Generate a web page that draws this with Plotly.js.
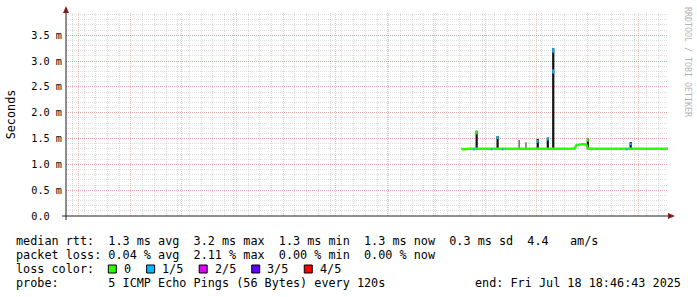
<!DOCTYPE html>
<html><head><meta charset="utf-8">
<script src="https://cdn.plot.ly/plotly-3.0.1.min.js"></script>
<style>html,body{margin:0;padding:0;background:#fff;}#chart{width:697px;height:297px;}</style>
</head><body><div id="chart"></div>
<script>
// ---------------- data ----------------
const xStart = '2024-07-24 06:00';
const xEnd = '2025-07-18 18:46:43';

const medianDates = ['2025-03-17 06:00','2025-03-19','2025-03-21','2025-03-23','2025-03-25','2025-03-27','2025-03-29','2025-03-31',
 '2025-04-02','2025-04-04','2025-04-06','2025-04-08','2025-04-10','2025-04-12','2025-04-14','2025-04-16','2025-04-18','2025-04-20',
 '2025-04-22','2025-04-24','2025-04-26','2025-04-28','2025-04-30','2025-05-02','2025-05-04','2025-05-06','2025-05-08','2025-05-10',
 '2025-05-12','2025-05-14','2025-05-16','2025-05-18','2025-05-20','2025-05-22','2025-05-24','2025-05-25','2025-05-26','2025-05-28',
 '2025-05-30','2025-05-31','2025-06-01','2025-06-03','2025-06-05','2025-06-07','2025-06-09','2025-06-11','2025-06-13','2025-06-15',
 '2025-06-17','2025-06-19','2025-06-21','2025-06-23','2025-06-25','2025-06-27','2025-06-29','2025-07-01','2025-07-03','2025-07-05',
 '2025-07-07','2025-07-09','2025-07-11','2025-07-13','2025-07-15','2025-07-17','2025-07-18 18:00'];
const medianRtt = [1.30,1.29,1.30,1.30,1.29,1.30,1.30,1.29,
 1.30,1.30,1.29,1.30,1.30,1.30,1.29,1.30,1.30,1.30,
 1.29,1.30,1.30,1.30,1.30,1.30,1.30,1.29,1.30,1.30,
 1.30,1.30,1.30,1.30,1.30,1.30,1.30,1.37,1.38,1.39,
 1.39,1.38,1.30,1.30,1.29,1.30,1.30,1.30,1.30,1.30,
 1.29,1.30,1.30,1.30,1.30,1.30,1.30,1.30,1.29,1.30,
 1.30,1.29,1.30,1.30,1.30,1.30,1.30];

// smoke (ping spread) spikes
const spikeDates = ['2025-03-26 12:00','2025-04-08 00:00','2025-05-02 00:00','2025-05-08 00:00','2025-05-11 06:00','2025-05-31 22:00','2025-06-26 12:00'];
const spikeLow   = [1.28,1.28,1.28,1.28,1.28,1.28,1.28];
const spikeHigh  = [1.65,1.55,1.49,1.52,3.25,1.50,1.43];
const greySpikeDates = ['2025-04-20 22:00','2025-04-25 00:00'];
const greySpikeLow   = [1.30,1.30];
const greySpikeHigh  = [1.47,1.43];

// median segments with 1/5 packet loss
const loss1Dates = ['2025-03-25 00:00','2025-04-04 12:00','2025-04-11 00:00','2025-04-08 00:00','2025-05-02 00:00','2025-05-08 00:00','2025-05-11 06:00','2025-05-11 06:00','2025-06-26 12:00','2025-06-24 00:00'];
const loss1Low   = [1.27,1.27,1.27,1.49,1.42,1.46,3.16,2.76,1.37,1.27];
const loss1High  = [1.31,1.31,1.31,1.55,1.47,1.52,3.25,2.84,1.41,1.31];
// median peaks with no loss
const loss0Dates = ['2025-03-26 12:00','2025-05-31 22:00'];
const loss0Low   = [1.58,1.44];
const loss0High  = [1.65,1.50];

const xLabelDates = ['2024-09-16','2024-11-16','2025-01-16','2025-03-16','2025-05-16'];
const xLabelText  = ['September 2024','November 2024','January 2025','March 2025','May 2025'];
const yTickVals = [0,0.5,1.0,1.5,2.0,2.5,3.0,3.5];
const yTickText = ['0.0  ','0.5 m','1.0 m','1.5 m','2.0 m','2.5 m','3.0 m','3.5 m'];
const lossLabels = ['0','1/5','2/5','3/5','4/5'];
const lossColors = ['#26ff00','#00b8ff','#dd00ff','#5e00ff','#ff0000'];

// ---------------- layout helpers ----------------
const W=697,H=297,L=66,R=29,T=13,B=81;
const PW=W-L-R, PH=H-T-B;
const px=x=>(x-L)/PW, py=y=>(H-B-y)/PH;
const mono='DejaVu Sans Mono';
const nb=s=>s.replace(/ /g,'\u00a0');
function segs(d,lo,hi){const x=[],y=[];d.forEach((t,i)=>{x.push(t,t,null);y.push(lo[i],hi[i],null);});return {x,y};}

const sp=segs(spikeDates,spikeLow,spikeHigh);
const gs=segs(greySpikeDates,greySpikeLow,greySpikeHigh);
const l1=segs(loss1Dates,loss1Low,loss1High);
const l0=segs(loss0Dates,loss0Low,loss0High);

const traces=[
 {type:'scatter',mode:'lines',x:gs.x,y:gs.y,line:{color:'#6e6e6e',width:1.5},connectgaps:false},
 {type:'scatter',mode:'lines',x:sp.x,y:sp.y,line:{color:'#111111',width:2.2},connectgaps:false},
 {type:'scatter',mode:'lines',x:medianDates,y:medianRtt,line:{color:lossColors[0],width:2.5}},
 {type:'scatter',mode:'lines',x:l1.x,y:l1.y,line:{color:lossColors[1],width:2},connectgaps:false},
 {type:'scatter',mode:'lines',x:l0.x,y:l0.y,line:{color:lossColors[0],width:2},connectgaps:false}
];

const GRID='rgba(143,143,143,0.75)', MGRID='rgba(222,79,79,0.6)';
const shapes=[
 {type:'line',xref:'paper',yref:'paper',x0:px(62),x1:px(670),y0:0,y1:0,line:{color:'#1f1f1f',width:1}},
 {type:'line',xref:'paper',yref:'paper',x0:0,x1:0,y0:py(220),y1:py(11),line:{color:'#1f1f1f',width:1}},
 {type:'path',xref:'paper',yref:'paper',path:`M${px(668)},${py(213)} L${px(675)},${py(216)} L${px(668)},${py(219)} Z`,fillcolor:'#801f1f',line:{width:0}},
 {type:'path',xref:'paper',yref:'paper',path:`M${px(63)},${py(13)} L${px(66)},${py(6)} L${px(69)},${py(13)} Z`,fillcolor:'#801f1f',line:{width:0}}
];
const cw=7.1, x0=16;
const annotations=[];
function txt(s,xp,yp,anchor){annotations.push({xref:'paper',yref:'paper',x:px(xp),y:py(yp),xanchor:anchor||'left',yanchor:'middle',showarrow:false,text:nb(s),font:{family:mono,size:11.8,color:'#000'},borderpad:0,borderwidth:0});}
txt('median rtt:  1.3 ms avg  3.2 ms max  1.3 ms min  1.3 ms now  0.3 ms sd  4.4   am/s',x0,241);
txt('packet loss: 0.04 % avg  2.11 % max  0.00 % min  0.00 % now',x0,255);
txt('loss color:',x0,269);
let col=13;
lossLabels.forEach((lab,i)=>{
  const bx=x0+col*cw;
  shapes.push({type:'rect',xref:'paper',yref:'paper',x0:px(bx),x1:px(bx+8),y0:py(273),y1:py(265),fillcolor:lossColors[i],line:{color:'#000',width:1}});
  txt(lab,x0+(col+2.2)*cw,269);
  col+=2.2+lab.length+2.2;
});
txt('probe:       5 ICMP Echo Pings (56 Bytes) every 120s',x0,283);
txt('end: Fri Jul 18 18:46:43 2025',681,283,'right');
annotations.push({xref:'paper',yref:'paper',x:px(688),y:py(62),xanchor:'center',yanchor:'middle',showarrow:false,textangle:90,
  text:nb('RRDTOOL / TOBI OETIKER'),font:{family:mono,size:8.3,color:'#b4b4b4'}});

const layout={
 width:W,height:H,margin:{l:L,r:R,t:T,b:B,pad:0},
 paper_bgcolor:'#ffffff',plot_bgcolor:'#ffffff',showlegend:false,hovermode:false,
 xaxis:{type:'date',range:[xStart,xEnd],tickmode:'linear',tick0:'2024-08-01',dtick:'M1',showticklabels:false,ticks:'',
   showgrid:true,gridcolor:MGRID,gridwidth:0.6,griddash:'1px,1px',zeroline:false,showline:false,fixedrange:true,
   minor:{tickmode:'linear',tick0:'2024-07-28',dtick:7*86400000,showgrid:true,gridcolor:GRID,gridwidth:0.4,griddash:'1px,1px',ticks:''}},
 xaxis2:{type:'date',overlaying:'x',anchor:'y',side:'bottom',range:[xStart,xEnd],tickmode:'array',tickvals:xLabelDates,ticktext:xLabelText,
   showgrid:false,ticks:'',zeroline:false,showline:false,tickfont:{family:mono,size:10.2,color:'#000'},fixedrange:true},
 yaxis:{range:[0,3.93],tickmode:'array',tickvals:yTickVals,ticktext:yTickText.map(nb),ticks:'',ticklabelstandoff:3,
   tickfont:{family:mono,size:10.2,color:'#000'},showgrid:true,gridcolor:MGRID,gridwidth:0.6,griddash:'1px,1px',
   zeroline:false,showline:false,fixedrange:true,
   minor:{tickmode:'linear',tick0:0,dtick:0.1,showgrid:true,gridcolor:GRID,gridwidth:0.4,griddash:'1px,1px',ticks:''},
   title:{text:'Seconds',font:{family:mono,size:11.8,color:'#000'},standoff:13}},
 shapes:shapes,annotations:annotations
};
Plotly.newPlot('chart',traces,layout,{displayModeBar:false,staticPlot:true});
</script></body></html>
